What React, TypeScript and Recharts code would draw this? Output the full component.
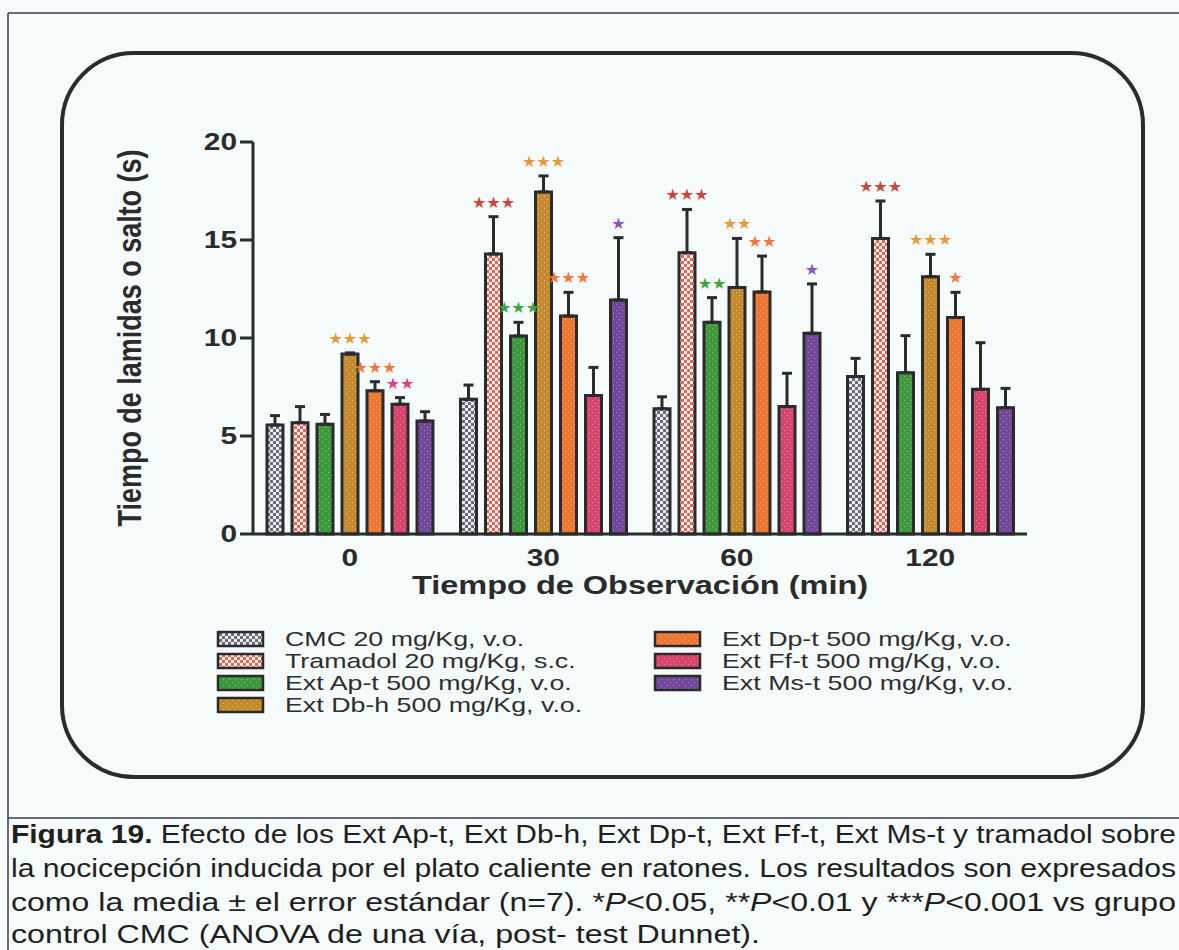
import React from 'react';
import { BarChart, Bar, XAxis, YAxis, ErrorBar, LabelList } from 'recharts';

const times = ['0', '30', '60', '120'];
const yTicks = [0, 5, 10, 15, 20];

// media y error estándar por grupo (s)
const cmcMean = [5.56, 6.87, 6.39, 8.03];
const cmcSem = [0.48, 0.73, 0.61, 0.93];
const tramMean = [5.68, 14.29, 14.35, 15.08];
const tramSem = [0.82, 1.9, 2.21, 1.91];
const apMean = [5.6, 10.1, 10.8, 8.23];
const apSem = [0.5, 0.7, 1.26, 1.89];
const dbMean = [9.18, 17.45, 12.58, 13.13];
const dbSem = [0.06, 0.82, 2.5, 1.14];
const dpMean = [7.31, 11.12, 12.35, 11.04];
const dpSem = [0.46, 1.21, 1.83, 1.29];
const ffMean = [6.62, 7.06, 6.5, 7.38];
const ffSem = [0.34, 1.44, 1.7, 2.38];
const msMean = [5.77, 11.94, 10.24, 6.44];
const msSem = [0.47, 3.18, 2.52, 0.99];

// significancia vs CMC
const cmcSig = ['', '', '', ''];
const tramSig = ['', '***', '***', '***'];
const apSig = ['', '***', '**', ''];
const dbSig = ['***', '***', '**', '***'];
const dpSig = ['***', '***', '**', '*'];
const ffSig = ['**', '', '', ''];
const msSig = ['', '*', '*', ''];

const groups = [
  { key: 'cmc', name: 'CMC 20 mg/Kg, v.o.', mean: cmcMean, sem: cmcSem, sig: cmcSig, pat: 'pat-cmc', star: '#777' },
  { key: 'tram', name: 'Tramadol 20 mg/Kg, s.c.', mean: tramMean, sem: tramSem, sig: tramSig, pat: 'pat-tram', star: '#c8463e' },
  { key: 'ap', name: 'Ext Ap-t 500 mg/Kg, v.o.', mean: apMean, sem: apSem, sig: apSig, pat: 'pat-ap', star: '#3fa43f' },
  { key: 'db', name: 'Ext Db-h 500 mg/Kg, v.o.', mean: dbMean, sem: dbSem, sig: dbSig, pat: 'pat-db', star: '#e59a3a' },
  { key: 'dp', name: 'Ext Dp-t 500 mg/Kg, v.o.', mean: dpMean, sem: dpSem, sig: dpSig, pat: 'pat-dp', star: '#f0773a' },
  { key: 'ff', name: 'Ext Ff-t 500 mg/Kg, v.o.', mean: ffMean, sem: ffSem, sig: ffSig, pat: 'pat-ff', star: '#e0407c' },
  { key: 'ms', name: 'Ext Ms-t 500 mg/Kg, v.o.', mean: msMean, sem: msSem, sig: msSig, pat: 'pat-ms', star: '#8a52c4' },
];

const data = times.map((t, i) => {
  const row: any = { time: t };
  groups.forEach(g => {
    row[g.key] = g.mean[i];
    row[g.key + 'Err'] = [0, g.sem[i]];
    row[g.key + 'Sig'] = g.sig[i];
  });
  return row;
});

const INK = '#2b2b2b';
const BG = '#f5fafb';
const SANS = 'Arial, "Liberation Sans", sans-serif';

const checker = (id: string, light: string, dark: string) => (
  <pattern id={id} width="6" height="6" patternUnits="userSpaceOnUse">
    <rect width="6" height="6" fill={light} />
    <rect width="3" height="3" fill={dark} />
    <rect x="3" y="3" width="3" height="3" fill={dark} />
  </pattern>
);

const speckle = (id: string, base: string, dot: string) => (
  <pattern id={id} width="6" height="6" patternUnits="userSpaceOnUse">
    <rect width="6" height="6" fill={base} />
    <rect x="1" y="1" width="1" height="1" fill={dot} />
    <rect x="4" y="4" width="1" height="1" fill={dot} />
  </pattern>
);

const YTick = (p: any) => (
  <text transform={`translate(${p.x},${p.y}) scale(1.3,1)`} dy={8} textAnchor="end"
    fontFamily={SANS} fontWeight="bold" fontSize={23} fill={INK}>
    {p.payload.value}
  </text>
);

const XTick = (p: any) => (
  <text transform={`translate(${p.x},${p.y}) scale(1.3,1)`} dy={32} textAnchor="middle"
    fontFamily={SANS} fontWeight="bold" fontSize={23} fill={INK}>
    {p.payload.value}
  </text>
);

const xTitle = (p: any) => {
  const vb = p.viewBox;
  return (
    <text transform={`translate(${vb.x + vb.width / 2},${vb.y + 60}) scale(1.3,1)`} textAnchor="middle"
      fontFamily={SANS} fontWeight="bold" fontSize={25} fill={INK}>
      Tiempo de Observación (min)
    </text>
  );
};

const yTitle = (p: any) => {
  const vb = p.viewBox;
  return (
    <text transform={`translate(${vb.x - 52},${vb.y + vb.height / 2}) rotate(-90) scale(1,1.3)`} textAnchor="middle"
      fontFamily={SANS} fontWeight="bold" fontSize={25} fill={INK} textLength={377} lengthAdjust="spacingAndGlyphs">
      Tiempo de lamidas o salto (s)
    </text>
  );
};

// asteriscos sobre la barra de error
const starLabel = (g: any) => (p: any) => {
  const { x, y, width, height, index, value } = p;
  if (!value) return null;
  const top = y - g.sem[index] * (height / g.mean[index]);
  return (
    <text x={x + width / 2} y={top - 9} textAnchor="middle" fill={g.star}
      fontSize={16} fontFamily="DejaVu Sans">
      {String(value).replace(/\*/g, '\u2605')}
    </text>
  );
};

const legendRows = groups.map((g, i) => ({
  ...g,
  sx: i < 4 ? 218 : 655,
  tx: i < 4 ? 285 : 722,
  cy: 639 + (i < 4 ? i : i - 4) * 22,
}));

export default function App() {
  return (
    <div style={{ position: 'absolute', left: 0, top: 0, width: 1179, height: 950, background: BG, overflow: 'hidden' }}>
      <svg width={1179} height={950} style={{ position: 'absolute', left: 0, top: 0 }}>
        <defs>
          {checker('pat-cmc', '#e9ebf0', '#6a6a7c')}
          {checker('pat-tram', '#fbeee6', '#e0685a')}
          {speckle('pat-ap', '#3e983e', '#8ccc7c')}
          {speckle('pat-db', '#c48a30', '#ecc674')}
          {speckle('pat-dp', '#ec7833', '#f9b272')}
          {speckle('pat-ff', '#d6456c', '#f294ab')}
          {speckle('pat-ms', '#72489a', '#ad8ccc')}
        </defs>
        {/* marco de la figura */}
        <line x1={8} y1={13} x2={1179} y2={13} stroke="#3a3d4c" strokeWidth={1.5} />
        <line x1={8} y1={13} x2={8} y2={950} stroke="#3a3d4c" strokeWidth={1.5} />
        <line x1={8} y1={818} x2={1179} y2={818} stroke="#3a3d4c" strokeWidth={1.5} />
        <rect x={62} y={53} width={1081} height={724} rx={72} ry={72} fill="none" stroke={INK} strokeWidth={4} />

        {legendRows.map(r => (
          <g key={r.key}>
            <rect x={r.sx} y={r.cy - 7} width={45} height={14} fill={`url(#${r.pat})`} stroke={INK} strokeWidth={2.5} />
            <text transform={`translate(${r.tx},${r.cy + 7}) scale(1.34,1)`} fontFamily={SANS} fontSize={20} fill="#2e2e2e">
              {r.name}
            </text>
          </g>
        ))}

        <g fontFamily='"Liberation Sans Narrow", "Arial Narrow", "Liberation Sans", sans-serif' fontSize={26} fill="#1f1f1f">
          <text x={11} y={843} textLength={1165} lengthAdjust="spacingAndGlyphs">
            <tspan fontWeight="bold">Figura 19.</tspan> Efecto de los Ext Ap-t, Ext Db-h, Ext Dp-t, Ext Ff-t, Ext Ms-t y tramadol sobre
          </text>
          <text x={11} y={877} textLength={1165} lengthAdjust="spacingAndGlyphs">
            la nocicepción inducida por el plato caliente en ratones. Los resultados son expresados
          </text>
          <text x={11} y={911} textLength={1165} lengthAdjust="spacingAndGlyphs">
            como la media ± el error estándar (n=7). *<tspan fontStyle="italic">P</tspan>&lt;0.05, **<tspan fontStyle="italic">P</tspan>&lt;0.01 y ***<tspan fontStyle="italic">P</tspan>&lt;0.001 vs grupo
          </text>
          <text x={11} y={943} textLength={749} lengthAdjust="spacingAndGlyphs">
            control CMC (ANOVA de una vía, post- test Dunnet).
          </text>
        </g>
      </svg>

      <div style={{ position: 'absolute', left: 0, top: 0 }}>
        <BarChart width={1179} height={950} data={data} barSize={16} barGap={9}
          margin={{ top: 142, right: 152, bottom: 346, left: 193 }}>
          <XAxis dataKey="time" height={70} tickLine={false} tickSize={0} tickMargin={0}
            axisLine={{ stroke: INK, strokeWidth: 3 }} tick={<XTick />} label={{ content: xTitle }} />
          <YAxis width={60} domain={[0, 20]} ticks={yTicks} interval={0} tickSize={13} tickMargin={3}
            axisLine={{ stroke: INK, strokeWidth: 3 }} tickLine={{ stroke: INK, strokeWidth: 3 }}
            tick={<YTick />} label={{ content: yTitle }} />
          {groups.map(g => (
            <Bar key={g.key} dataKey={g.key} name={g.name} fill={`url(#${g.pat})`} stroke={INK}
              strokeWidth={3} isAnimationActive={false}>
              <ErrorBar dataKey={g.key + 'Err'} direction="y" width={5} stroke={INK} strokeWidth={3} />
              <LabelList dataKey={g.key + 'Sig'} content={starLabel(g)} />
            </Bar>
          ))}
        </BarChart>
      </div>
    </div>
  );
}
